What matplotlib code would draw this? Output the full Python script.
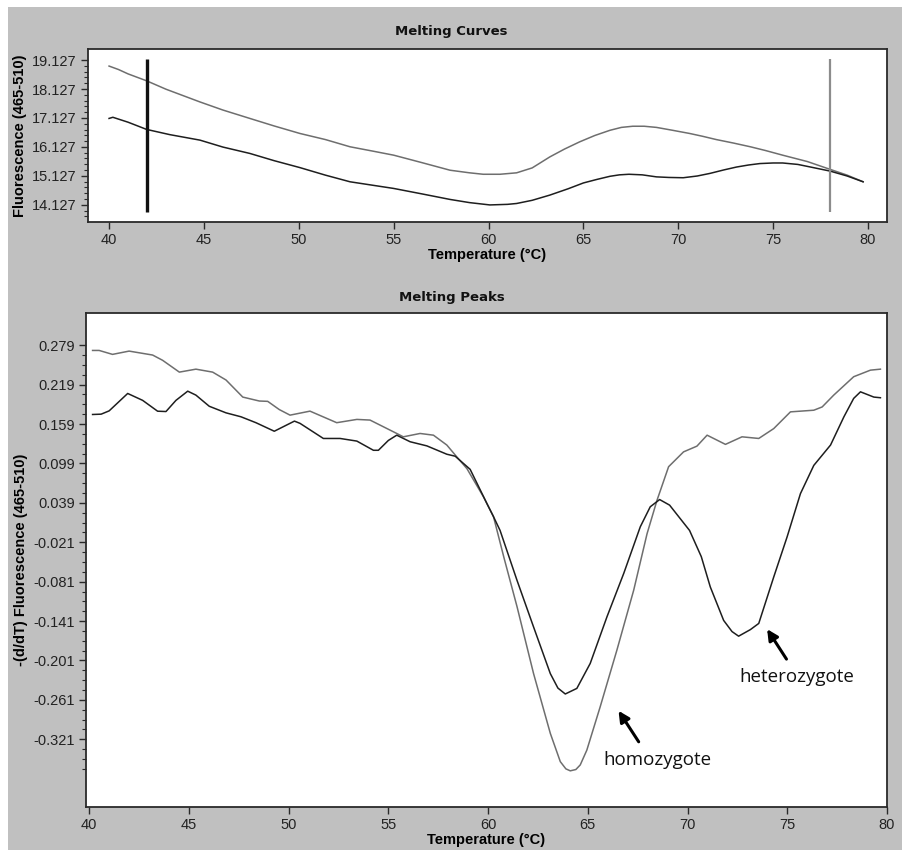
import numpy as np
import matplotlib
matplotlib.use("Agg")
import matplotlib.pyplot as plt
from matplotlib.patches import Rectangle
from matplotlib.ticker import FixedLocator

# ---------------- data: Melting Curves ----------------
curve_hom_T = [40.0, 40.5, 41.0, 41.98, 43.0, 44.79, 46.0, 47.42, 48.7, 50.06, 51.4,
               52.7, 53.9, 55.0, 56.5, 57.97, 59.0, 59.72, 60.6, 61.48, 62.3, 63.23,
               64.0, 64.8, 65.6, 66.4, 67.0, 67.6, 68.2, 68.85, 69.7, 70.6, 71.3,
               72.0, 72.9, 73.8, 74.6, 75.5, 76.8, 78.0, 78.9, 79.74]
curve_hom_F = [18.92, 18.80, 18.65, 18.41, 18.12, 17.68, 17.40, 17.11, 16.85, 16.59, 16.38,
               16.13, 15.98, 15.84, 15.58, 15.32, 15.23, 15.18, 15.18, 15.23, 15.40, 15.78,
               16.05, 16.30, 16.52, 16.70, 16.80, 16.84, 16.84, 16.80, 16.70, 16.59, 16.49,
               16.38, 16.26, 16.13, 16.00, 15.84, 15.62, 15.35, 15.15, 14.92]
curve_het_T = [40.0, 40.2, 41.0, 41.98, 43.2, 44.79, 46.0, 47.42, 48.7, 50.06, 51.4,
               52.7, 53.9, 55.0, 56.5, 57.97, 59.0, 60.07, 61.0, 61.48, 62.3, 63.23,
               64.2, 65.0, 65.7, 66.4, 66.9, 67.4, 68.1, 68.85, 69.5, 70.26, 71.0,
               71.67, 72.4, 73.07, 73.7, 74.3, 75.0, 75.5, 76.3, 76.97, 78.0, 78.9, 79.74]
curve_het_F = [17.11, 17.15, 16.98, 16.73, 16.55, 16.36, 16.12, 15.90, 15.65, 15.41, 15.15,
               14.92, 14.80, 14.69, 14.50, 14.31, 14.20, 14.12, 14.14, 14.17, 14.28, 14.46,
               14.68, 14.88, 15.00, 15.11, 15.16, 15.18, 15.16, 15.09, 15.07, 15.06, 15.12,
               15.21, 15.33, 15.43, 15.50, 15.55, 15.57, 15.57, 15.52, 15.43, 15.29, 15.12, 14.92]
cursor_left = 42.0
cursor_right = 78.0
curves_yticks = [14.127, 15.127, 16.127, 17.127, 18.127, 19.127]

# ---------------- data: Melting Peaks ----------------
peak_hom_T = [40.17, 40.5, 41.17, 42.0, 43.18, 43.68, 44.52, 45.35, 46.19, 46.86,
              47.70, 48.53, 48.95, 49.53, 50.07, 51.07, 52.41, 53.42, 54.08, 55.42,
              55.75, 56.59, 57.26, 57.93, 58.43, 58.94, 59.77, 60.27, 60.8, 61.45,
              62.28, 63.12, 63.62, 63.9, 64.12, 64.4, 64.62, 64.95, 65.62, 66.46, 67.3, 67.97,
              68.47, 69.05, 69.8, 70.47, 70.98, 71.9, 72.73, 73.57, 74.32, 75.16,
              76.33, 76.75, 77.33, 78.33, 79.17, 79.67]
peak_hom_V = [0.271, 0.271, 0.265, 0.270, 0.264, 0.256, 0.238, 0.2425, 0.238, 0.226,
              0.200, 0.194, 0.1935, 0.181, 0.1725, 0.1786, 0.161, 0.166, 0.165, 0.1446,
              0.1395, 0.1446, 0.142, 0.127, 0.109, 0.091, 0.048, 0.018, -0.045, -0.119,
              -0.221, -0.312, -0.355, -0.366, -0.369, -0.367, -0.360, -0.3375, -0.2715, -0.185, -0.094, -0.008,
              0.043, 0.094, 0.1166, 0.1253, 0.142, 0.128, 0.1395, 0.137, 0.152, 0.1775,
              0.180, 0.185, 0.203, 0.231, 0.241, 0.2425]
peak_het_T = [40.17, 40.6, 41.0, 41.93, 42.68, 43.43, 43.85, 44.35, 44.94, 45.35,
              46.02, 46.86, 47.61, 48.36, 49.28, 49.87, 50.29, 50.57, 51.74, 52.58,
              53.42, 54.25, 54.5, 55.0, 55.42, 56.09, 56.93, 57.93, 58.35, 59.1,
              59.94, 60.27, 60.6, 61.45, 62.28, 63.12, 63.5, 63.87, 64.45, 65.12, 65.96,
              66.8, 67.63, 68.13, 68.6, 69.1, 70.1, 70.69, 71.14, 71.81, 72.23,
              72.56, 73.15, 73.57, 74.32, 74.99, 75.66, 76.33, 77.17, 77.84, 78.33,
              78.67, 79.34, 79.67]
peak_het_V = [0.1735, 0.174, 0.179, 0.2055, 0.195, 0.1785, 0.178, 0.195, 0.209, 0.203,
              0.186, 0.176, 0.170, 0.161, 0.148, 0.157, 0.1634, 0.160, 0.137, 0.137,
              0.133, 0.119, 0.119, 0.134, 0.142, 0.132, 0.1257, 0.113, 0.110, 0.090,
              0.038, 0.018, -0.003, -0.079, -0.150, -0.221, -0.243, -0.252, -0.2435, -0.2055, -0.1345,
              -0.0685, 0.0025, 0.033, 0.044, 0.0355, -0.003, -0.043, -0.089, -0.140, -0.157,
              -0.164, -0.154, -0.1446, -0.074, -0.013, 0.053, 0.096, 0.127, 0.170, 0.198,
              0.208, 0.200, 0.199]
peaks_yticks = [-0.321, -0.261, -0.201, -0.141, -0.081, -0.021, 0.039, 0.099, 0.159, 0.219, 0.279]
xticks = [40, 45, 50, 55, 60, 65, 70, 75, 80]

# ---------------- styling ----------------
W, H = 903, 850
BG = "#c0c0c0"
C_HOM = "#6e6e6e"
C_HET = "#1e1e1e"
TICKFONT = ["Liberation Sans", "DejaVu Sans"]
plt.rcParams["font.family"] = TICKFONT

fig = plt.figure(figsize=(W / 100, H / 100), dpi=100)
fig.patch.set_facecolor("white")
fig.patches.append(Rectangle((8 / W, 0), 1 - 8 / W, (H - 7) / H, transform=fig.transFigure,
                             facecolor=BG, edgecolor="none", zorder=-10))


def style_axes(ax):
    ax.set_facecolor("white")
    for s in ax.spines.values():
        s.set_color("#2a2a2a")
        s.set_linewidth(1.3)
    ax.tick_params(axis="both", which="major", direction="out", length=5, width=1,
                   color="#2a2a2a", labelsize=10.5, labelcolor="#222222", pad=3)
    ax.tick_params(axis="y", which="minor", direction="out", length=3, width=0.8, color="#2a2a2a")
    ax.tick_params(axis="x", which="minor", length=0)


# top axes
ax1 = fig.add_axes([88 / W, 1 - 222 / H, (887 - 88) / W, (222 - 49) / H])
style_axes(ax1)
ax1.plot(curve_hom_T, curve_hom_F, color=C_HOM, lw=1.1)
ax1.plot(curve_het_T, curve_het_F, color=C_HET, lw=1.1)
ax1.vlines(cursor_left, 13.88, 19.15, color="#111111", lw=2.4)
ax1.vlines(cursor_right, 13.88, 19.15, color="#8c8c8c", lw=1.6)
ax1.set_xlim(38.89, 81.0)
ax1.set_ylim(13.53, 19.51)
ax1.set_xticks(xticks)
ax1.set_yticks(curves_yticks)
ax1.set_yticklabels([f"{v:.3f}" for v in curves_yticks])
ax1.yaxis.set_minor_locator(FixedLocator(np.arange(13.727, 19.2, 0.2)))
ax1.set_xlabel("Temperature (°C)", fontsize=10.5, fontweight="bold", labelpad=1)
ax1.set_ylabel("Fluorescence (465-510)", fontsize=10.5, fontweight="bold", labelpad=4)

# bottom axes
ax2 = fig.add_axes([86 / W, 1 - 806.7 / H, (887 - 86) / W, (806.7 - 313) / H])
style_axes(ax2)
ax2.plot(peak_hom_T, peak_hom_V, color=C_HOM, lw=1.1)
ax2.plot(peak_het_T, peak_het_V, color=C_HET, lw=1.1)
ax2.set_xlim(39.84, 80.0)
ax2.set_ylim(-0.4236, 0.328)
ax2.set_xticks(xticks)
ax2.set_yticks(peaks_yticks)
ax2.set_yticklabels([f"{v:.3f}" for v in peaks_yticks])
ax2.yaxis.set_minor_locator(FixedLocator(np.arange(-0.366, 0.28, 0.015)))
ax2.set_xlabel("Temperature (°C)", fontsize=10.5, fontweight="bold", labelpad=1)
ax2.set_ylabel("-(d/dT) Fluorescence (465-510)", fontsize=10.5, fontweight="bold", labelpad=4)

# annotations
ann_font = ["Open Sans", "DejaVu Sans"]
ax2.annotate("", xy=(66.54, -0.2776), xytext=(67.55, -0.3248),
             arrowprops=dict(arrowstyle="-|>", color="black", lw=2.2, mutation_scale=16,
                             shrinkA=0, shrinkB=0))
ax2.annotate("", xy=(73.99, -0.1533), xytext=(74.96, -0.1989),
             arrowprops=dict(arrowstyle="-|>", color="black", lw=2.2, mutation_scale=16,
                             shrinkA=0, shrinkB=0))
ax2.text(68.49, -0.3527, "homozygote", ha="center", va="center", fontsize=13.5,
         family=ann_font, fontweight="medium", color="#111111")
ax2.text(75.5, -0.2259, "heterozygote", ha="center", va="center", fontsize=13.5,
         family=ann_font, fontweight="medium", color="#111111")

# titles (figure-centred, bold)
title_font = ["DejaVu Sans", "Liberation Sans"]
fig.text(0.5, 1 - 31 / H, "Melting Curves", ha="center", va="center", fontsize=9.5,
         fontweight="bold", family=title_font, color="#111111")
fig.text(0.5, 1 - 297 / H, "Melting Peaks", ha="center", va="center", fontsize=9.5,
         fontweight="bold", family=title_font, color="#111111")

fig.savefig("out.png", dpi=100, facecolor=fig.get_facecolor())
